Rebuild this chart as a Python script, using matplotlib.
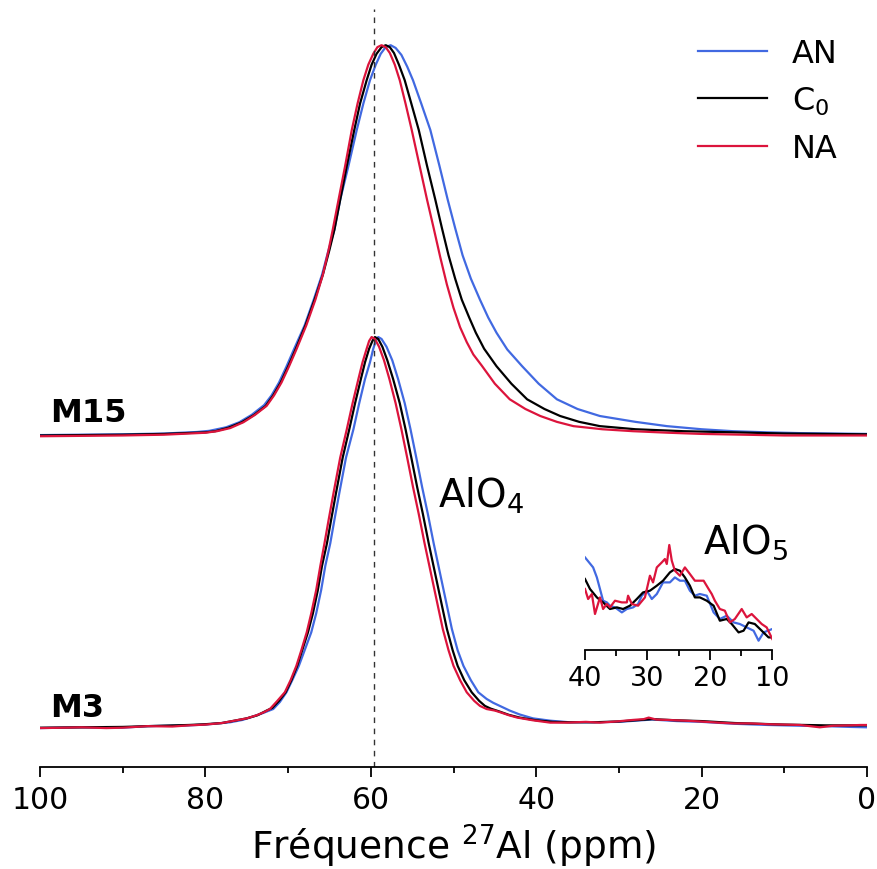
import matplotlib
matplotlib.use("Agg")
import matplotlib.pyplot as plt
from matplotlib.ticker import MultipleLocator

# ---------------- data (ppm, normalised intensity) ----------------
# M15 series
m15_an_x = [100, 90, 85, 81, 79.5, 77.5, 75.9, 74.4, 72.9, 72.0, 71.1, 70.2, 69.3, 68.0, 66.9, 65.9, 65.1, 64.4, 63.7,
            62.7, 61.7, 60.9, 60.1, 59.4, 58.8, 58.2, 57.6, 57.0, 56.3, 55.6, 54.9, 53.9, 52.8, 51.7, 50.7, 49.8, 48.9,
            47.9, 46.8, 45.8, 44.8, 43.5, 41.7, 39.7, 37.5, 35.0, 32.3, 28.0, 24.2, 20.0, 16.2, 12.0, 8.0, 0]
m15_an_y = [-0.002, 0.0, 0.002, 0.006, 0.009, 0.018, 0.031, 0.050, 0.075, 0.10, 0.133, 0.174, 0.218, 0.28, 0.346, 0.41, 0.474, 0.526, 0.603,
            0.69, 0.782, 0.85, 0.91, 0.95, 0.978, 0.995, 1.0, 0.993, 0.975, 0.945, 0.91, 0.85, 0.782, 0.69, 0.603, 0.53, 0.46,
            0.40, 0.346, 0.30, 0.261, 0.218, 0.175, 0.13, 0.09, 0.065, 0.047, 0.032, 0.021, 0.013, 0.008, 0.005, 0.003, 0.001]

m15_c0_x = [100, 90, 85, 80, 78.8, 77.2, 75.6, 74.1, 72.7, 71.8, 70.9, 70.0, 69.1, 67.9, 66.8, 65.8, 65.0, 64.4, 63.7,
            62.9, 62.0, 61.3, 60.5, 59.9, 59.3, 58.7, 58.2, 57.7, 57.2, 56.6, 55.9, 55.1, 54.2, 53.2, 52.2, 51.4, 50.6,
            49.8, 49.0, 48.1, 47.3, 46.3, 44.8, 43.0, 41.1, 39.0, 37.1, 34.8, 32.3, 28.0, 22.2, 16.0, 10.0, 0]
m15_c0_y = [-0.003, -0.001, 0.001, 0.005, 0.008, 0.017, 0.031, 0.050, 0.073, 0.10, 0.133, 0.174, 0.218, 0.28, 0.346, 0.41, 0.474, 0.526, 0.603,
            0.69, 0.782, 0.85, 0.91, 0.95, 0.978, 0.995, 1.0, 0.995, 0.98, 0.95, 0.91, 0.85, 0.782, 0.69, 0.603, 0.53, 0.46,
            0.40, 0.346, 0.30, 0.261, 0.22, 0.175, 0.13, 0.09, 0.065, 0.047, 0.032, 0.021, 0.013, 0.008, 0.005, 0.002, 0.0]

m15_na_x = [100, 90, 85, 80, 78.6, 77.0, 75.4, 74.0, 72.6, 71.7, 70.8, 69.9, 69.0, 67.8, 66.7, 65.8, 65.1, 64.6, 63.9,
            63.1, 62.3, 61.6, 60.9, 60.3, 59.7, 59.2, 58.7, 58.2, 57.7, 57.1, 56.5, 55.8, 55.05, 54.1, 53.2, 52.4, 51.6,
            50.8, 50.0, 49.2, 48.4, 47.6, 46.6, 45.0, 43.2, 41.3, 39.5, 37.5, 35.5, 32.0, 28.3, 24.0, 20.0, 10.0, 0]
m15_na_y = [-0.005, -0.003, -0.001, 0.004, 0.008, 0.016, 0.031, 0.050, 0.073, 0.10, 0.133, 0.174, 0.218, 0.28, 0.346, 0.41, 0.474, 0.526, 0.603,
            0.69, 0.782, 0.85, 0.91, 0.95, 0.978, 0.995, 1.0, 0.995, 0.98, 0.95, 0.91, 0.85, 0.782, 0.69, 0.603, 0.53, 0.455,
            0.385, 0.325, 0.275, 0.237, 0.205, 0.177, 0.13, 0.09, 0.065, 0.047, 0.032, 0.021, 0.013, 0.008, 0.004, 0.001, -0.003, -0.003]

# M3 series
m3_an_x = [100, 95, 90, 87, 82, 80, 77, 75.5, 74.2, 73.0, 71.8, 71.0, 70.2, 69.5, 68.7, 68.0, 67.2, 66.6, 66.0, 65.5,
           64.9, 64.4, 63.8, 63.0, 62.1, 61.4, 60.7, 60.1, 59.7, 59.4, 59.1, 58.7, 58.1, 57.4, 56.7, 55.9, 55.2, 54.5,
           53.8, 53.1, 52.4, 51.8, 51.0, 50.2, 49.5, 48.8, 47.9, 47.0, 46.0, 45.2, 44.4, 43.2, 42.0, 40.4, 38.3,
           36.0, 33, 30, 28, 26, 23, 20, 16, 12, 8, 5, 2, 0]
m3_an_y = [-0.005, -0.003, -0.004, 0.0, 0.002, 0.004, 0.010, 0.016, 0.025, 0.034, 0.044, 0.062, 0.087, 0.118, 0.155, 0.195, 0.241, 0.29, 0.35, 0.412,
           0.47, 0.53, 0.60, 0.69, 0.763, 0.83, 0.892, 0.935, 0.97, 0.99, 1.0, 0.995, 0.975, 0.94, 0.892, 0.83, 0.763, 0.69,
           0.615, 0.545, 0.47, 0.41, 0.33, 0.25, 0.195, 0.155, 0.118, 0.087, 0.070, 0.060, 0.052, 0.040, 0.030, 0.020, 0.014,
           0.010, 0.010, 0.011, 0.014, 0.017, 0.013, 0.011, 0.006, 0.003, 0.001, 0.0, -0.002, -0.003]

m3_c0_x = [100, 95, 90, 87, 82, 80, 78, 76.5, 75, 73.7, 72.6, 71.9, 71.1, 70.3, 69.6, 68.9, 68.3, 67.6, 67.0, 66.4, 65.9,
           65.3, 64.8, 64.2, 63.4, 62.6, 61.9, 61.2, 60.7, 60.2, 59.8, 59.5, 59.1, 58.6, 58.0, 57.3, 56.5, 55.8, 55.1,
           54.4, 53.7, 53.0, 52.4, 51.6, 50.8, 50.1, 49.5, 48.7, 47.8, 46.9, 46.2, 45.5, 44.5, 43.3, 42.0, 40.0,
           38.0, 36.0, 33, 30, 28, 26, 23, 20, 16, 10, 5, 0]
m3_c0_y = [-0.004, -0.003, -0.002, 0.0, 0.003, 0.005, 0.008, 0.014, 0.020, 0.028, 0.040, 0.047, 0.065, 0.087, 0.118, 0.155, 0.195, 0.241, 0.29, 0.35, 0.412,
           0.47, 0.53, 0.60, 0.69, 0.763, 0.83, 0.892, 0.935, 0.97, 0.99, 1.0, 0.995, 0.975, 0.94, 0.892, 0.83, 0.763, 0.69,
           0.615, 0.545, 0.47, 0.41, 0.33, 0.25, 0.195, 0.155, 0.118, 0.087, 0.065, 0.052, 0.045, 0.038, 0.029, 0.022, 0.015,
           0.011, 0.010, 0.010, 0.012, 0.015, 0.018, 0.015, 0.013, 0.008, 0.004, 0.002, 0.002]

m3_na_x = [100, 97, 95, 92, 90, 87, 84, 82, 80, 78, 76.5, 75, 73.8, 72.9, 72.2, 71.3, 70.4, 69.7, 69.0, 68.4, 67.75,
           67.2, 66.6, 66.1, 65.6, 65.1, 64.5, 63.7, 62.9, 62.2, 61.5, 61.0, 60.5, 60.2, 59.9, 59.5, 59.0, 58.4, 57.75,
           57.0, 56.3, 55.6, 54.9, 54.2, 53.5, 52.9, 52.1, 51.3, 50.6, 50.0, 49.2, 48.4, 47.5, 46.8, 46.0, 45.0,
           44.4, 43.3, 42.3, 40.4, 38.3, 36.3, 34, 32.3, 30.3, 28.3, 27.0, 26.4, 25.5, 24.2, 22, 20.2, 18, 16.2, 14,
           12.1, 10, 8.1, 5.7, 4.1, 2, 0.8, 0]
m3_na_y = [-0.005, -0.004, -0.003, -0.005, -0.004, 0.0, -0.001, 0.002, 0.004, 0.008, 0.014, 0.020, 0.028, 0.036, 0.044, 0.065, 0.087, 0.118, 0.155, 0.195, 0.241,
           0.29, 0.35, 0.412, 0.47, 0.53, 0.60, 0.69, 0.763, 0.83, 0.892, 0.935, 0.97, 0.99, 1.0, 0.995, 0.975, 0.94, 0.892,
           0.83, 0.763, 0.69, 0.615, 0.545, 0.47, 0.41, 0.33, 0.25, 0.195, 0.155, 0.118, 0.087, 0.065, 0.052, 0.044, 0.040,
           0.036, 0.028, 0.022, 0.015, 0.009, 0.009, 0.011, 0.009, 0.012, 0.016, 0.018, 0.022, 0.017, 0.016, 0.014, 0.012, 0.009, 0.007, 0.007,
           0.005, 0.004, 0.003, -0.003, 0.001, 0.002, 0.003, 0.003]

# inset (AlO5 region, arbitrary units)
ins_an_x = [40.0, 38.7, 38.1, 37.6, 37.1, 36.5, 36.0, 35.2, 34.1, 33.3, 32.3, 31.5, 30.9, 30.1, 29.3, 28.5, 27.5, 26.4, 25.6,
            24.8, 24.0, 23.2, 22.4, 21.6, 20.5, 19.4, 18.4, 17.3, 16.2, 15.2, 14.1, 13.0, 12.2, 11.4, 10.0]
ins_an_y = [92.3, 82.3, 72.3, 60.7, 49.0, 47.3, 44.0, 42.3, 37.3, 40.7, 42.3, 45.7, 54.0, 59.0, 50.7, 55.7, 67.3, 67.3, 72.3,
            69.0, 69.0, 59.0, 54.0, 55.7, 54.0, 37.3, 30.7, 34.0, 27.3, 25.7, 22.3, 19.0, 9.0, 17.3, 20.7]

ins_c0_x = [40.0, 39.2, 38.1, 37.1, 36.0, 34.9, 33.9, 32.8, 31.7, 30.7, 29.6, 28.5, 27.5, 26.4, 25.6, 24.8, 24.0, 23.2,
            22.4, 21.6, 20.5, 19.4, 18.4, 17.3, 16.5, 15.4, 14.6, 13.8, 12.8, 11.7, 10.6, 10.0]
ins_c0_y = [70.7, 60.7, 52.3, 47.3, 40.7, 42.3, 40.7, 44.0, 50.7, 57.3, 59.0, 64.0, 69.0, 77.3, 80.7, 79.0, 72.3, 64.0,
            52.3, 52.3, 49.0, 44.0, 29.0, 30.7, 25.7, 17.3, 19.0, 27.3, 25.7, 19.0, 12.3, 12.3]

ins_na_x = [40.0, 39.5, 38.9, 38.4, 37.6, 37.1, 36.5, 36.0, 35.2, 34.1, 33.3, 33.1, 32.5, 31.5, 30.4, 29.6, 29.1, 28.5, 27.7,
            27.2, 26.9, 26.5, 26.1, 25.6, 24.8, 24.0, 23.2, 22.4, 21.0, 20.2, 19.7, 19.2, 18.4, 17.6, 16.8, 16.0, 14.9, 14.1,
            13.3, 12.5, 11.7, 10.9, 10.0]
ins_na_y = [60.7, 50.7, 55.7, 35.7, 52.3, 40.7, 45.7, 42.3, 49.0, 47.3, 47.3, 54.0, 45.7, 44.0, 52.3, 74.0, 67.3, 82.3, 87.3,
            90.7, 85.7, 104.7, 89.0, 79.0, 74.0, 82.3, 75.7, 69.0, 69.0, 60.7, 55.7, 49.0, 40.7, 39.0, 27.3, 30.7, 40.7, 32.3,
            35.7, 30.7, 25.7, 22.3, 10.7]

labels = ["AN", "C$_0$", "NA"]
colors = ["royalblue", "black", "crimson"]
ref_ppm = 59.6

# ---------------- figure ----------------
W, H = 877, 870
fig = plt.figure(figsize=(W / 100, H / 100), dpi=100)
ax = fig.add_axes([40 / W, (H - 768) / H, 827 / W, (768 - 10) / H])

offset = 0.75
m15 = [(m15_an_x, m15_an_y), (m15_c0_x, m15_c0_y), (m15_na_x, m15_na_y)]
m3 = [(m3_an_x, m3_an_y), (m3_c0_x, m3_c0_y), (m3_na_x, m3_na_y)]
for (x, y), c, lab in zip(m15, colors, labels):
    ax.plot(x, [v + offset for v in y], color=c, lw=1.6, label=lab, solid_joinstyle="round")
for (x, y), c in zip(m3, colors):
    ax.plot(x, y, color=c, lw=1.6, solid_joinstyle="round")

ax.axvline(ref_ppm, color="#333333", lw=1.0, ls=(0, (4, 4)))

ax.set_xlim(100, 0)
ax.set_ylim(-0.105, 1.843)
ax.set_yticks([])
for s in ["left", "right", "top"]:
    ax.spines[s].set_visible(False)
ax.spines["bottom"].set_linewidth(1.3)
ax.xaxis.set_major_locator(MultipleLocator(20))
ax.xaxis.set_minor_locator(MultipleLocator(10))
ax.tick_params(axis="x", which="major", length=7, width=1.3, labelsize=21.5, pad=6)
ax.tick_params(axis="x", which="minor", length=4, width=1.3)
ax.set_xlabel("Fréquence $^{27}$Al (ppm)", fontsize=27, labelpad=6)

ax.text(98.8, 0.784, "M15", fontsize=23, fontweight="bold", va="baseline", ha="left")
ax.text(98.8, 0.026, "M3", fontsize=23, fontweight="bold", va="baseline", ha="left")
ax.text(51.9, 0.563, "AlO$_4$", fontsize=28, va="baseline", ha="left")
ax.text(19.8, 0.447, "AlO$_5$", fontsize=28, va="baseline", ha="left")

ax.legend(loc="upper left", frameon=False, fontsize=23, handlelength=2.15,
          labelspacing=0.49, handletextpad=0.78, borderpad=0, borderaxespad=0,
          bbox_to_anchor=(698 / W, 1 - 39 / H), bbox_transform=fig.transFigure)

# inset
ins = fig.add_axes([585 / W, (H - 650.7) / H, 187.3 / W, 120 / H])
for (x, y), c in zip([(ins_an_x, ins_an_y), (ins_c0_x, ins_c0_y), (ins_na_x, ins_na_y)], colors):
    ins.plot(x, y, color=c, lw=1.6)
ins.set_xlim(40, 10)
ins.set_ylim(0, 120)
ins.set_yticks([])
for s in ["left", "right", "top"]:
    ins.spines[s].set_visible(False)
ins.spines["bottom"].set_linewidth(1.3)
ins.patch.set_alpha(0)
ins.xaxis.set_major_locator(MultipleLocator(10))
ins.xaxis.set_minor_locator(MultipleLocator(5))
ins.tick_params(axis="x", which="major", length=7, width=1.3, labelsize=19.5, pad=4)
ins.tick_params(axis="x", which="minor", length=4, width=1.3)

fig.savefig("out.png", dpi=100)
